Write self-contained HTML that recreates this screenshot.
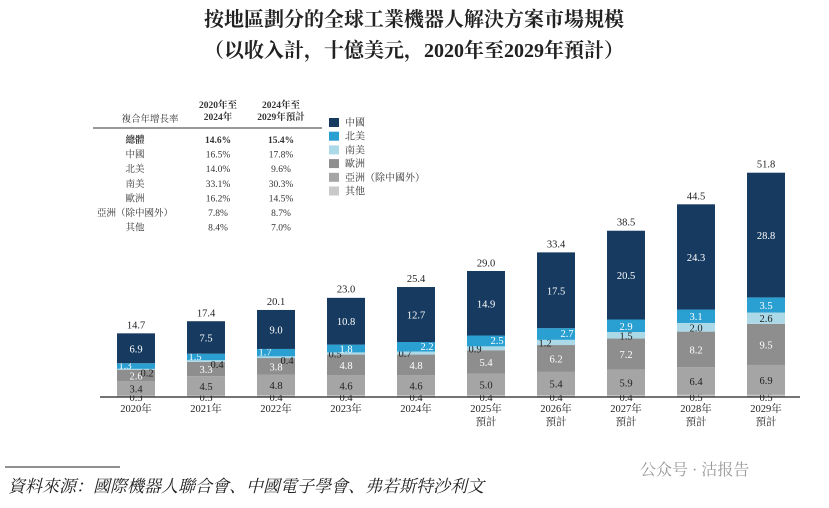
<!DOCTYPE html>
<html><head><meta charset="utf-8"><style>
body{margin:0;background:#fff;}
svg text{font-family:"Liberation Serif","Noto Serif CJK SC",serif;}
</style></head><body>
<svg width="829" height="503" viewBox="0 0 829 503" xmlns="http://www.w3.org/2000/svg">
<text x="414" y="26" text-anchor="middle" font-size="20" font-weight="bold" fill="#222">按地區劃分的全球工業機器人解決方案市場規模</text>
<text x="414" y="57" text-anchor="middle" font-size="20" font-weight="bold" fill="#222">（以收入計，十億美元，2020年至2029年預計）</text>
<g id="table" font-size="10" fill="#333"></g>
<g id="legend"></g>
<g id="bars"></g>
<line x1="100" y1="397" x2="800" y2="397" stroke="#222" stroke-width="1.3"/>
<line x1="5" y1="467" x2="120" y2="467" stroke="#222" stroke-width="1"/>
<text x="8" y="492" font-size="17" font-style="italic" fill="#222">資料來源：國際機器人聯合會、中國電子學會、弗若斯特沙利文</text>
<text x="640" y="475" font-size="16" fill="#999" font-family="Liberation Sans,Noto Sans CJK SC,sans-serif">公众号 · 沽报告</text>
</svg>
<script>
const years=["2020年","2021年","2022年","2023年","2024年","2025年","2026年","2027年","2028年","2029年"];
const forecast=[false,false,false,false,false,true,true,true,true,true];
const seriesNames=["其他","亞洲（除中國外）","歐洲","南美","北美","中國"];
const other=[0.3,0.3,0.4,0.4,0.4,0.4,0.4,0.4,0.5,0.5];
const asia=[3.4,4.5,4.8,4.6,4.6,5.0,5.4,5.9,6.4,6.9];
const europe=[2.6,3.3,3.8,4.8,4.8,5.4,6.2,7.2,8.2,9.5];
const southAmerica=[0.2,0.4,0.4,0.5,0.7,0.9,1.2,1.5,2.0,2.6];
const northAmerica=[1.3,1.5,1.7,1.8,2.2,2.5,2.7,2.9,3.1,3.5];
const china=[6.9,7.5,9.0,10.8,12.7,14.9,17.5,20.5,24.3,28.8];
const totals=[14.7,17.4,20.1,23.0,25.4,29.0,33.4,38.5,44.5,51.8];
const tableRows=["總體","中國","北美","南美","歐洲","亞洲（除中國外）","其他"];
const cagr1=["14.6%","16.5%","14.0%","33.1%","16.2%","7.8%","8.4%"];
const cagr2=["15.4%","17.8%","9.6%","30.3%","14.5%","8.7%","7.0%"];

const NS="http://www.w3.org/2000/svg";
const colors=["#c9c9c9","#a5a5a5","#8e8e8e","#acd9e8","#2aa0d2","#163a60"];
const textColors=["#222","#222","#fff","#222","#fff","#fff"];
const series=[other,asia,europe,southAmerica,northAmerica,china];
const base=397, scale=4.33;
const y=v=>base-v*scale;
const xc=i=>136+i*70;
const bw=38;
// label offset per series per bar: -1 left, 0 center, 1 right
const saSide=[1,1,1,-1,-1,-1,-1,0,0,0];
const naSide=[-1,-1,-1,0,1,1,1,0,0,0];
function mk(tag,attrs,parent,txt){const e=document.createElementNS(NS,tag);for(const k in attrs)e.setAttribute(k,attrs[k]);if(txt!==undefined)e.textContent=txt;parent.appendChild(e);return e;}
const g=document.getElementById('bars');
years.forEach((yr,i)=>{
  let cum=0;
  series.forEach((s,k)=>{
    const v=s[i];
    const r=mk('rect',{x:xc(i)-bw/2,y:y(cum+v),width:bw,height:v*scale,fill:colors[k]},g);
    
    
    let lx=xc(i), ly=y(cum+v/2)+4, fill=textColors[k];
    if(k===0){ly=base+4;fill='#222';}
    if(k===3){lx=xc(i)+saSide[i]*11;fill='#222';if(saSide[i]===1)ly+=3;}
    if(k===4){lx=xc(i)+naSide[i]*11;if(naSide[i]!==0)ly-=1;}
    const t=mk('text',{x:lx,y:ly,'text-anchor':'middle','font-size':10.5,fill:fill},g,s[i].toFixed(1));
    
    
    cum+=v;
  });
  const tt=mk('text',{x:xc(i),y:y(totals[i])-5,'text-anchor':'middle','font-size':10.5,fill:'#222'},g,totals[i].toFixed(1));
  
  
  const xl=mk('text',{x:xc(i),y:412,'text-anchor':'middle','font-size':10.5,fill:'#222'},g,yr);
  
  
  if(forecast[i]){const f=mk('text',{x:xc(i),y:425,'text-anchor':'middle','font-size':10.5,fill:'#222'},g,'預計');
    
    }
});
const lg=document.getElementById('legend');
const legOrder=[5,4,3,2,1,0];
legOrder.forEach((k,j)=>{
  const r=mk('rect',{x:329,y:118+j*13.7,width:10,height:9,fill:colors[k]},lg);
  
  
  const t=mk('text',{x:345,y:126+j*13.7,'font-size':10,fill:'#333'},lg,seriesNames[k]);
  
  
});
const tb=document.getElementById('table');
const hd=[[150,122,"複合年增長率"],[218,108,"2020年至"],[218,120,"2024年"],[281,108,"2024年至"],[281,120,"2029年預計"]];
hd.forEach(h=>{const t=mk('text',{x:h[0],y:h[1],'text-anchor':'middle','font-size':9.5,'font-weight':h[2]==="複合年增長率"?'normal':'bold',fill:'#333'},tb,h[2]);
  
  });
const ln=mk('line',{x1:93,y1:128,x2:322,y2:128,stroke:'#333','stroke-width':1},tb);


tableRows.forEach((r,j)=>{
  const yy=143+j*14.6, bold=j===0?'bold':'normal';
  [[135,r],[218,cagr1[j]],[281,cagr2[j]]].forEach(c=>{
    const t=mk('text',{x:c[0],y:yy,'text-anchor':'middle','font-size':9.5,'font-weight':bold,fill:'#333'},tb,c[1]);
    
    
  });
});
</script>
</body></html>
